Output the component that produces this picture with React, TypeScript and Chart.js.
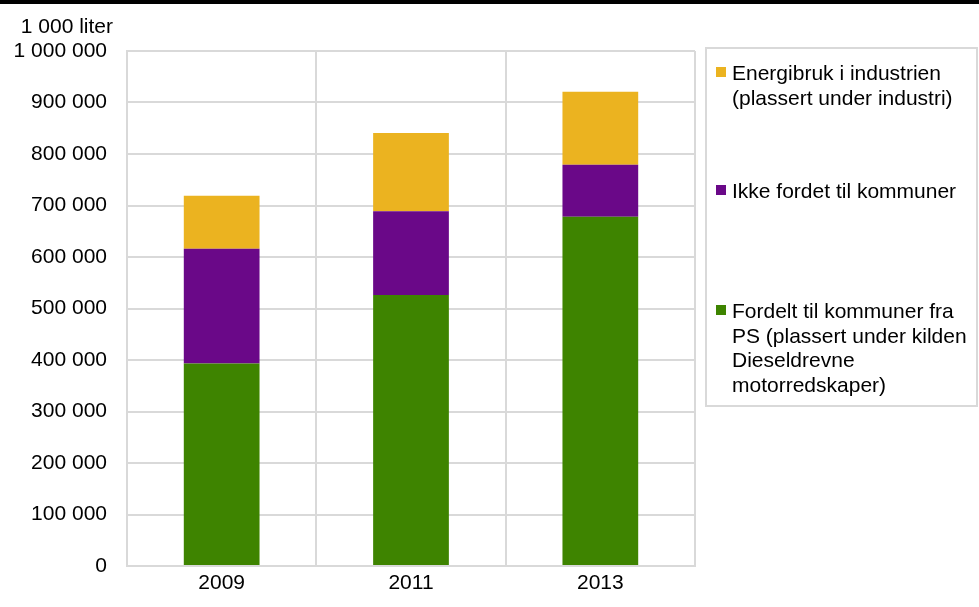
import { useEffect, useRef } from "react";
import { Chart, registerables } from "chart.js";

Chart.register(...registerables);

// Years on the category axis
const years = ["2009", "2011", "2013"];

// Stacked series, 1 000 liter
const fordeltValues = [393000, 526000, 678000];
const ikkeFordeltValues = [223000, 163000, 101000];
const industriValues = [103000, 152000, 142000];

// Legend texts, one entry per line
const fordeltLines = ["Fordelt til kommuner fra", "PS (plassert under kilden", "Dieseldrevne", "motorredskaper)"];
const ikkeFordeltLines = ["Ikke fordet til kommuner"];
const industriLines = ["Energibruk i industrien", "(plassert under industri)"];

const unitLabel = "1 000 liter";
const yMax = 1000000;
const yStep = 100000;

const GREEN = "#3e8400";
const PURPLE = "#6a0888";
const YELLOW = "#ebb320";
const GRID = "#d9d9d9";
const FONT = "'Liberation Sans', Arial, sans-serif";

const formatThousands = (v: number) =>
  String(Math.round(v)).replace(/\B(?=(\d{3})+(?!\d))/g, " ");

type LegendEntry = { color: string; lines: string[] };

const legendEntries: LegendEntry[] = [
  { color: YELLOW, lines: industriLines },
  { color: PURPLE, lines: ikkeFordeltLines },
  { color: GREEN, lines: fordeltLines },
];

const decorPlugin = {
  id: "decor",
  afterDraw(chart: Chart) {
    const ctx = chart.ctx;
    ctx.save();
    // rule across the top of the figure
    ctx.fillStyle = "#000";
    ctx.fillRect(0, 0, chart.width, 4);

    // unit label above the value axis
    ctx.font = `21px ${FONT}`;
    ctx.fillStyle = "#000";
    ctx.textAlign = "right";
    ctx.textBaseline = "alphabetic";
    ctx.fillText(unitLabel, 113, 33);

    // legend frame
    ctx.strokeStyle = GRID;
    ctx.lineWidth = 2;
    ctx.strokeRect(706, 48, 271, 358);

    // legend entries
    const firstBaselines = [80, 198, 318];
    const lineHeight = 24.5;
    ctx.textAlign = "left";
    legendEntries.forEach((entry, i) => {
      const base = firstBaselines[i];
      ctx.fillStyle = entry.color;
      ctx.fillRect(716, base - 13, 10, 10);
      ctx.fillStyle = "#000";
      entry.lines.forEach((line, j) => {
        ctx.fillText(line, 732, base + j * lineHeight);
      });
    });
    ctx.restore();
  },
};

export default function App() {
  const canvasRef = useRef<HTMLCanvasElement | null>(null);

  useEffect(() => {
    document.body.style.margin = "0";
    const canvas = canvasRef.current;
    if (!canvas) return;

    const chart = new Chart(canvas, {
      type: "bar",
      data: {
        labels: years,
        datasets: [
          {
            label: fordeltLines.join(" "),
            data: fordeltValues,
            backgroundColor: GREEN,
            borderWidth: 0,
          },
          {
            label: ikkeFordeltLines.join(" "),
            data: ikkeFordeltValues,
            backgroundColor: PURPLE,
            borderWidth: 0,
          },
          {
            label: industriLines.join(" "),
            data: industriValues,
            backgroundColor: YELLOW,
            borderWidth: 0,
          },
        ],
      },
      options: {
        responsive: false,
        animation: false,
        layout: { padding: { top: 51, right: 284, left: 0, bottom: 0 } },
        datasets: {
          bar: { categoryPercentage: 1, barPercentage: 0.4 },
        },
        plugins: {
          legend: { display: false },
          tooltip: { enabled: false },
          title: { display: false },
        },
        scales: {
          x: {
            stacked: true,
            offset: true,
            grid: { color: GRID, lineWidth: 2, drawTicks: false, offset: true },
            border: { display: true, color: GRID, width: 2 },
            ticks: {
              color: "#000",
              font: { family: FONT, size: 21 },
              padding: 5,
            },
            afterFit(scale: any) {
              scale.height = 41;
            },
          },
          y: {
            stacked: true,
            min: 0,
            max: yMax,
            grid: { color: GRID, lineWidth: 2, drawTicks: false },
            border: { display: true, color: GRID, width: 2 },
            ticks: {
              stepSize: yStep,
              color: "#000",
              padding: 20,
              font: { family: FONT, size: 21 },
              callback: (v: any) => formatThousands(Number(v)),
            },
            afterFit(scale: any) {
              scale.width = 127;
            },
          },
        },
      },
      plugins: [decorPlugin],
    });

    return () => chart.destroy();
  }, []);

  return (
    <div style={{ width: 979, height: 607, background: "#fff" }}>
      <canvas ref={canvasRef} width={979} height={607} style={{ display: "block" }} />
    </div>
  );
}
